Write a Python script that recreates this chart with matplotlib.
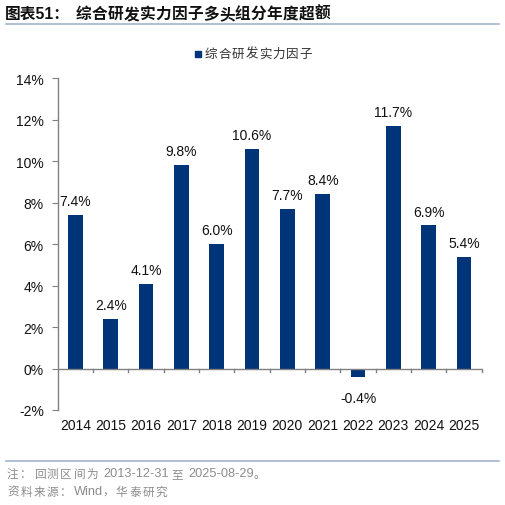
import matplotlib
matplotlib.use("Agg")
import matplotlib.pyplot as plt
from matplotlib.patches import Rectangle
from matplotlib.lines import Line2D

years = ["2014", "2015", "2016", "2017", "2018", "2019", "2020", "2021", "2022", "2023", "2024", "2025"]
values = [7.4, 2.4, 4.1, 9.8, 6.0, 10.6, 7.7, 8.4, -0.4, 11.7, 6.9, 5.4]
yticks = [-2, 0, 2, 4, 6, 8, 10, 12, 14]
series_name = "综合研发实力因子"
title_prefix = "图表51："
title_body = "综合研发实力因子多头组分年度超额"
note1 = "注：回测区间为 2013-12-31 至 2025-08-29。"
note2 = "资料来源：Wind，华泰研究"

plt.rcParams['font.family'] = ['Liberation Sans', 'Noto Sans CJK SC', 'DejaVu Sans']

W, H = 505, 506
fig = plt.figure(figsize=(W / 100, H / 100), dpi=100)
renderer = fig.canvas.get_renderer()


def fx(px):
    return px / W


def fy(py):
    return 1 - py / H


def is_cjk(ch):
    return ord(ch) >= 0x2E80


def draw_spaced(x, y, text, cjk_adv, fontsize, color, weight="normal", space_px=4,
                ascii_size=None):
    """Draw text with wider spacing for CJK glyphs (pixel coords)."""
    if ascii_size is None:
        ascii_size = fontsize
    run = ""
    cur = x

    def flush(run, cur):
        if not run:
            return cur
        t = fig.text(fx(cur), fy(y), run, fontsize=ascii_size, color=color, fontweight=weight,
                     ha="left", va="center", family=['Liberation Sans', 'Noto Sans CJK SC'])
        bb = t.get_window_extent(renderer=renderer)
        return cur + bb.width

    for ch in text:
        if is_cjk(ch):
            cur = flush(run, cur)
            run = ""
            fig.text(fx(cur), fy(y), ch, fontsize=fontsize, color=color, fontweight=weight,
                     ha="left", va="center", family=['Noto Sans CJK SC'])
            cur += cjk_adv
        elif ch == " ":
            cur = flush(run, cur)
            run = ""
            cur += space_px
        else:
            run += ch
    flush(run, cur)


left, right = 57.7, 481.7
top, bottom = 79.3, 411.0
ax = fig.add_axes([fx(left), fy(bottom), fx(right) - fx(left), fy(top) - fy(bottom)])

bar_color = "#003478"
x = list(range(len(years)))
ax.bar(x, values, width=0.42, color=bar_color, zorder=2)
ax.set_xlim(-0.5, len(years) - 0.5)
ax.set_ylim(-2, 14)
ax.set_yticks(yticks)
ax.set_yticklabels([f"{v}%" for v in yticks], fontsize=10)

for i, v in enumerate(values):
    if v >= 0:
        ax.annotate(f"{v:.1f}%", (i, v), xytext=(0, 5), textcoords="offset points",
                    ha="center", va="bottom", fontsize=10, color="#111111")
    else:
        ax.annotate(f"{v:.1f}%", (i, v), xytext=(0, -10), textcoords="offset points",
                    ha="center", va="top", fontsize=10, color="#111111")

for s in ["top", "right", "bottom"]:
    ax.spines[s].set_visible(False)
ax.spines["left"].set_color("#808080")
ax.spines["left"].set_linewidth(1.0)
ax.axhline(0, color="#808080", lw=1.0, zorder=3)
ax.tick_params(axis="y", direction="out", length=4, color="#808080", pad=6, labelcolor="#111111")
ax.set_xticks([])
for b in [i + 0.5 for i in range(len(years))]:
    ax.plot([b, b], [0, -0.18], color="#808080", lw=1.0, clip_on=False, zorder=3)
for i, yr in enumerate(years):
    ax.text(i, -2.4, yr, ha="center", va="top", fontsize=10, color="#111111")

# title
fig.text(fx(5), fy(14), title_prefix, fontsize=11.3, fontweight="bold", color="#111111",
         ha="left", va="center", family=['Liberation Sans', 'Noto Sans CJK SC'])
draw_spaced(76, 14, title_body, 15.9, 11.3, "#111111", weight="bold")
fig.add_artist(Line2D([fx(6), fx(499)], [fy(24.5), fy(24.5)], color="#9fb4d0", lw=1.2))

# legend
fig.add_artist(Rectangle((fx(194.5), fy(58)), 6 / W, 6 / H, color=bar_color,
                         transform=fig.transFigure))
draw_spaced(205, 54.5, series_name, 13.5, 9, "#333333")

# footer
fig.add_artist(Line2D([fx(6), fx(499)], [fy(462), fy(462)], color="#9fb4d0", lw=1.2))
draw_spaced(7, 474.5, note1, 13.3, 8.4, "#8c8c8c", space_px=3, ascii_size=9.2)
draw_spaced(7, 492.5, note2, 13.3, 8.4, "#8c8c8c", space_px=3, ascii_size=9.2)

fig.savefig("out.png", dpi=100)
